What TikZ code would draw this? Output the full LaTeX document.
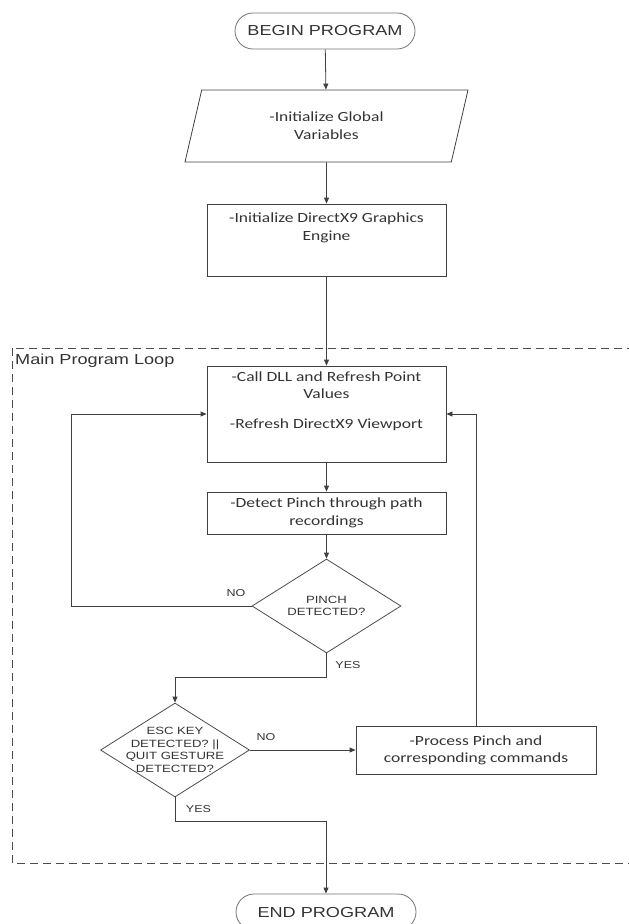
\documentclass[tikz,border=0pt]{standalone}
\usepackage{fontspec}
\setmainfont{Carlito}[FakeStretch=1.25]
\newfontfamily\arialfont{Liberation Sans}[FakeStretch=1.25]
\usepackage{xcolor}
\usetikzlibrary{arrows.meta,%
                shapes.geometric}

\begin{document}
\begin{tikzpicture}[x=1pt, y=-1pt,
    every node/.style={text=black!80},
    term/.style={draw=black!55, line width=0.8pt, rounded corners=18pt,
      minimum width=180pt, minimum height=36pt, inner sep=0pt,
      font=\arialfont\fontsize{14.5}{17}\selectfont},
    io/.style={draw=black!75, line width=0.8pt, trapezium,
      trapezium left angle=59, trapezium right angle=121,
      trapezium stretches body, minimum width=283pt, minimum height=72pt,
      align=center, inner sep=0pt, font=\fontsize{14}{18}\selectfont},
    proc/.style={draw=black!75, line width=0.8pt, minimum width=239pt,
      align=center, inner sep=0pt, font=\fontsize{14}{18}\selectfont},
    decision/.style={draw=black!70, line width=0.8pt, diamond,
      minimum width=149pt, minimum height=94pt, inner sep=0pt},
    decisiontext/.style={inner sep=0pt, align=center,
      font=\arialfont\fontsize{10.5}{12.7}\selectfont},
    answer/.style={inner sep=0pt, font=\arialfont\fontsize{10}{12}\selectfont},
    arr/.style={draw=black!75, line width=0.8pt,
      -{Triangle[length=6pt,width=5pt]}},
    loopframe/.style={draw=black!70, line width=0.8pt,
      dash pattern=on 8pt off 5pt}]
    \useasboundingbox (0,0) rectangle (629,924);

    \draw[loopframe] (12,348) rectangle (660,863);
    \node[anchor=base west, inner sep=0pt,
      font=\arialfont\fontsize{14.5}{17}\selectfont] (looplabel) at (15,364) {Main Program Loop};

    \node[term] (begin) at (325,31) {BEGIN PROGRAM};
    \node[io] (globals) at (326.5,126) {-Initialize Global\\Variables};
    \node[proc, minimum height=72pt, text depth=27pt] (engine) at (326.5,240)
      {-Initialize DirectX9 Graphics\\Engine};
    \node[proc, minimum height=96pt, text depth=28pt,
      font=\fontsize{14}{17}\selectfont] (refresh) at (326.5,414)
      {-Call DLL and Refresh Point\\Values\\[13pt]-Refresh DirectX9 Viewport};
    \node[proc, minimum height=42pt] (pinch) at (326.5,513)
      {-Detect Pinch through path\\recordings};
    \node[decision] (pinchq) at (326.5,606) {};
    \node[decisiontext] (pinchqtext) at (pinchq) {PINCH\\DETECTED?};
    \node[decision] (escq) at (175,750) {};
    \node[decisiontext] (escqtext) at (escq)
      {ESC KEY\\DETECTED? ||\\QUIT GESTURE\\DETECTED?};
    \node[proc, minimum width=240pt, minimum height=48pt,
      font=\fontsize{14}{17}\selectfont] (process) at (476,750)
      {-Process Pinch and\\corresponding commands};
    \node[term] (end) at (326,912) {END PROGRAM};

    \node[answer] (no1) at (236,593.5) {NO};
    \node[answer] (yes1) at (348,665) {YES};
    \node[answer] (no2) at (266,737) {NO};
    \node[answer] (yes2) at (198.5,809) {YES};

    \draw[arr] (begin) -- (globals);
    \draw[arr] (globals) -- (engine);
    \draw[arr] (engine) -- (refresh);
    \draw[arr] (refresh) -- (pinch);
    \draw[arr] (pinch) -- (pinchq);
    \draw[arr] (pinchq.west) -- ++(-180,0) |- (refresh.west);
    \draw[arr] (pinchq.south) -- ++(0,24) -| (escq.north);
    \draw[arr] (escq.east) -- (process.west);
    \draw[arr] (process.north) |- (refresh.east);
    \draw[arr] (escq.south) -- ++(0,24) -| (end.north);
\end{tikzpicture}
\end{document}
